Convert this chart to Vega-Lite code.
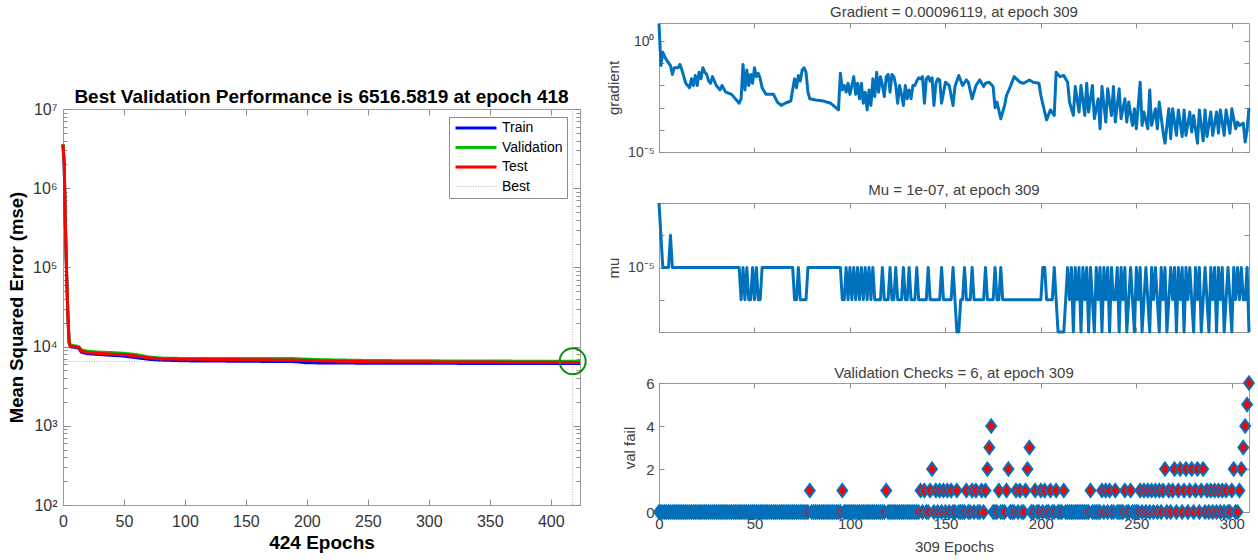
{
"$schema":"https://vega.github.io/schema/vega-lite/v6.json",
"padding":{"left":7,"top":4,"right":0,"bottom":0},
"bounds":"flush",
"spacing":79,
"config":{
  "font":"Liberation Sans",
  "view":{"stroke":"#9a9a9a","strokeWidth":1},
  "axis":{"domain":false,"domainColor":"#9a9a9a","grid":false,"tickColor":"#8c8c8c","tickWidth":1,"labelColor":"#333333","titleColor":"#262626","labelFlush":false,"labelOverlap":false}
},
"datasets":{
"perf":[
{"e":0,"s":"Train","m":3550000},{"e":1,"s":"Train","m":2000000},{"e":2,"s":"Train","m":320000},{"e":3,"s":"Train","m":79000},{"e":4,"s":"Train","m":25000},{"e":5,"s":"Train","m":11200},{"e":6,"s":"Train","m":10000},{"e":13,"s":"Train","m":9550},{"e":15,"s":"Train","m":8510},{"e":20,"s":"Train","m":8130},{"e":30,"s":"Train","m":7940},{"e":40,"s":"Train","m":7760},{"e":50,"s":"Train","m":7590},{"e":60,"s":"Train","m":7240},{"e":70,"s":"Train","m":6920},{"e":80,"s":"Train","m":6760},{"e":100,"s":"Train","m":6610},{"e":150,"s":"Train","m":6530},{"e":190,"s":"Train","m":6460},{"e":200,"s":"Train","m":6240},{"e":250,"s":"Train","m":6170},{"e":424,"s":"Train","m":6100},
{"e":0,"s":"Validation","m":3600000},{"e":1,"s":"Validation","m":2000000},{"e":2,"s":"Validation","m":325000},{"e":3,"s":"Validation","m":80000},{"e":4,"s":"Validation","m":25500},{"e":5,"s":"Validation","m":11500},{"e":6,"s":"Validation","m":10500},{"e":13,"s":"Validation","m":10000},{"e":15,"s":"Validation","m":9120},{"e":20,"s":"Validation","m":8710},{"e":30,"s":"Validation","m":8510},{"e":40,"s":"Validation","m":8410},{"e":50,"s":"Validation","m":8220},{"e":60,"s":"Validation","m":7940},{"e":70,"s":"Validation","m":7410},{"e":80,"s":"Validation","m":7160},{"e":100,"s":"Validation","m":7080},{"e":150,"s":"Validation","m":7080},{"e":190,"s":"Validation","m":7050},{"e":210,"s":"Validation","m":6840},{"e":250,"s":"Validation","m":6680},{"e":300,"s":"Validation","m":6610},{"e":418,"s":"Validation","m":6516.58},{"e":424,"s":"Validation","m":6516.58},
{"e":0,"s":"Test","m":3550000},{"e":1,"s":"Test","m":2000000},{"e":2,"s":"Test","m":320000},{"e":3,"s":"Test","m":79000},{"e":4,"s":"Test","m":25000},{"e":5,"s":"Test","m":11300},{"e":6,"s":"Test","m":10200},{"e":13,"s":"Test","m":9770},{"e":15,"s":"Test","m":8810},{"e":20,"s":"Test","m":8410},{"e":30,"s":"Test","m":8220},{"e":40,"s":"Test","m":8040},{"e":50,"s":"Test","m":7940},{"e":60,"s":"Test","m":7590},{"e":70,"s":"Test","m":7240},{"e":80,"s":"Test","m":7000},{"e":100,"s":"Test","m":6920},{"e":150,"s":"Test","m":6840},{"e":190,"s":"Test","m":6760},{"e":210,"s":"Test","m":6610},{"e":250,"s":"Test","m":6460},{"e":424,"s":"Test","m":6310}
],
"grad":[
{"e":0,"g":6.3},{"e":1,"g":0.0794},{"e":2,"g":0.316},{"e":3,"g":0.2},{"e":4,"g":0.141},{"e":6,"g":0.0794},{"e":7,"g":0.0316},{"e":8,"g":0.0631},{"e":10,"g":0.0631},{"e":11,"g":0.0891},{"e":12,"g":0.0501},{"e":13,"g":0.0251},{"e":14,"g":0.0126},{"e":16,"g":0.00794},{"e":17,"g":0.02},{"e":18,"g":0.01},{"e":19,"g":0.0282},{"e":20,"g":0.01},{"e":21,"g":0.0398},{"e":22,"g":0.02},{"e":23,"g":0.0631},{"e":24,"g":0.0398},{"e":25,"g":0.0316},{"e":26,"g":0.0158},{"e":27,"g":0.0126},{"e":28,"g":0.0251},{"e":30,"g":0.01},{"e":32,"g":0.00631},{"e":33,"g":0.01},{"e":35,"g":0.00501},{"e":38,"g":0.00398},{"e":40,"g":0.00251},{"e":42,"g":0.00158},{"e":43,"g":0.00251},{"e":44,"g":0.0891},{"e":45,"g":0.00631},{"e":46,"g":0.0501},{"e":47,"g":0.01},{"e":48,"g":0.0316},{"e":49,"g":0.0126},{"e":50,"g":0.0631},{"e":51,"g":0.0251},{"e":52,"g":0.0355},{"e":53,"g":0.02},{"e":54,"g":0.00794},{"e":56,"g":0.00398},{"e":60,"g":0.00398},{"e":62,"g":0.00178},{"e":64,"g":0.00126},{"e":66,"g":0.00158},{"e":69,"g":0.002},{"e":70,"g":0.00631},{"e":71,"g":0.02},{"e":72,"g":0.00794},{"e":73,"g":0.0282},{"e":74,"g":0.0158},{"e":75,"g":0.0501},{"e":76,"g":0.0631},{"e":77,"g":0.0398},{"e":78,"g":0.00501},{"e":79,"g":0.00251},{"e":82,"g":0.00224},{"e":86,"g":0.002},{"e":90,"g":0.00158},{"e":94,"g":0.000794},{"e":95,"g":0.0355},{"e":96,"g":0.00631},{"e":97,"g":0.01},{"e":98,"g":0.00501},{"e":99,"g":0.0126},{"e":100,"g":0.00398},{"e":101,"g":0.01},{"e":102,"g":0.0251},{"e":103,"g":0.00398},{"e":104,"g":0.0126},{"e":105,"g":0.00251},{"e":106,"g":0.0126},{"e":107,"g":0.00158},{"e":108,"g":0.00501},{"e":109,"g":0.000794},{"e":110,"g":0.00631},{"e":111,"g":0.00126},{"e":112,"g":0.02},{"e":113,"g":0.00316},{"e":114,"g":0.0398},{"e":115,"g":0.00501},{"e":116,"g":0.0251},{"e":117,"g":0.01},{"e":118,"g":0.00316},{"e":119,"g":0.0251},{"e":120,"g":0.0316},{"e":121,"g":0.00501},{"e":122,"g":0.0316},{"e":123,"g":0.0251},{"e":124,"g":0.01},{"e":125,"g":0.00158},{"e":126,"g":0.01},{"e":127,"g":0.00398},{"e":128,"g":0.00126},{"e":129,"g":0.01},{"e":130,"g":0.00251},{"e":131,"g":0.00631},{"e":132,"g":0.00251},{"e":133,"g":0.01},{"e":134,"g":0.01},{"e":135,"g":0.0158},{"e":136,"g":0.0224},{"e":137,"g":0.02},{"e":138,"g":0.0251},{"e":139,"g":0.00158},{"e":140,"g":0.02},{"e":141,"g":0.0251},{"e":142,"g":0.0158},{"e":143,"g":0.0224},{"e":144,"g":0.00126},{"e":145,"g":0.0126},{"e":146,"g":0.02},{"e":147,"g":0.0178},{"e":148,"g":0.00158},{"e":150,"g":0.0141},{"e":152,"g":0.01},{"e":154,"g":0.00126},{"e":155,"g":0.00891},{"e":157,"g":0.0282},{"e":159,"g":0.01},{"e":161,"g":0.0178},{"e":162,"g":0.0141},{"e":164,"g":0.00251},{"e":166,"g":0.01},{"e":168,"g":0.0178},{"e":170,"g":0.00891},{"e":171,"g":0.0126},{"e":173,"g":0.0141},{"e":175,"g":0.00891},{"e":176,"g":0.001},{"e":177,"g":0.00178},{"e":179,"g":0.000316},{"e":181,"g":0.00126},{"e":182,"g":0.00355},{"e":184,"g":0.00891},{"e":186,"g":0.0251},{"e":189,"g":0.0141},{"e":191,"g":0.0126},{"e":194,"g":0.0178},{"e":196,"g":0.0141},{"e":199,"g":0.0126},{"e":200,"g":0.00355},{"e":202,"g":0.000631},{"e":203,"g":0.000282},{"e":205,"g":0.000794},{"e":207,"g":0.000447},{"e":208,"g":0.0398},{"e":210,"g":0.0251},{"e":212,"g":0.0282},{"e":214,"g":0.0141},{"e":215,"g":0.00178},{"e":217,"g":0.000447},{"e":218,"g":0.00891},{"e":220,"g":0.000631},{"e":221,"g":0.01},{"e":223,"g":0.000447},{"e":224,"g":0.0126},{"e":225,"g":0.000631},{"e":227,"g":0.01},{"e":228,"g":0.000316},{"e":230,"g":0.00251},{"e":231,"g":0.000112},{"e":232,"g":0.00891},{"e":234,"g":0.000224},{"e":235,"g":0.00708},{"e":237,"g":0.000447},{"e":238,"g":0.00891},{"e":239,"g":0.000224},{"e":241,"g":0.00708},{"e":242,"g":0.000316},{"e":244,"g":0.00251},{"e":245,"g":0.000224},{"e":246,"g":0.00178},{"e":248,"g":0.000158},{"e":249,"g":0.000891},{"e":250,"g":0.000112},{"e":252,"g":0.0141},{"e":253,"g":0.000158},{"e":254,"g":0.000631},{"e":256,"g":0.000112},{"e":257,"g":0.00631},{"e":258,"g":0.000158},{"e":260,"g":0.000891},{"e":261,"g":0.000112},{"e":262,"g":0.00178},{"e":264,"g":0.0000794},{"e":265,"g":0.0000251},{"e":267,"g":0.000891},{"e":268,"g":0.0000398},{"e":269,"g":0.000891},{"e":271,"g":0.0000562},{"e":272,"g":0.000794},{"e":274,"g":0.0000501},{"e":275,"g":0.000794},{"e":276,"g":0.0000562},{"e":278,"g":0.000631},{"e":279,"g":0.0000794},{"e":280,"g":0.000447},{"e":282,"g":0.0000251},{"e":283,"g":0.000794},{"e":285,"g":0.0000316},{"e":286,"g":0.000794},{"e":287,"g":0.0000501},{"e":289,"g":0.000631},{"e":290,"g":0.0000562},{"e":292,"g":0.000631},{"e":293,"g":0.0000708},{"e":294,"g":0.000794},{"e":296,"g":0.0000562},{"e":297,"g":0.000794},{"e":299,"g":0.0000708},{"e":300,"g":0.000891},{"e":302,"g":0.000112},{"e":303,"g":0.000224},{"e":304,"g":0.000158},{"e":306,"g":0.0002},{"e":307,"g":0.0000282},{"e":308,"g":0.0001},{"e":309,"g":0.000961}
],
"mu":[
{"e":0,"u":1e-3},{"e":1,"u":1e-4},{"e":2,"u":1e-5},{"e":5,"u":1e-5},{"e":6,"u":1e-4},{"e":7,"u":1e-5},{"e":42,"u":1e-5},{"e":43,"u":1e-6},{"e":44,"u":1e-5},{"e":45,"u":1e-6},{"e":46,"u":1e-5},{"e":47,"u":1e-6},{"e":48,"u":1e-6},{"e":49,"u":1e-5},{"e":50,"u":1e-6},{"e":51,"u":1e-5},{"e":52,"u":1e-6},{"e":53,"u":1e-6},{"e":54,"u":1e-5},{"e":70,"u":1e-5},{"e":71,"u":1e-6},{"e":72,"u":1e-6},{"e":73,"u":1e-5},{"e":74,"u":1e-6},{"e":77,"u":1e-6},{"e":78,"u":1e-5},{"e":95,"u":1e-5},{"e":96,"u":1e-6},{"e":97,"u":1e-6},{"e":98,"u":1e-5},{"e":99,"u":1e-6},{"e":100,"u":1e-5},{"e":101,"u":1e-6},{"e":102,"u":1e-5},{"e":103,"u":1e-6},{"e":104,"u":1e-5},{"e":105,"u":1e-6},{"e":106,"u":1e-5},{"e":107,"u":1e-6},{"e":108,"u":1e-5},{"e":109,"u":1e-6},{"e":110,"u":1e-5},{"e":111,"u":1e-6},{"e":112,"u":1e-5},{"e":113,"u":1e-6},{"e":116,"u":1e-6},{"e":117,"u":1e-5},{"e":118,"u":1e-6},{"e":120,"u":1e-6},{"e":121,"u":1e-5},{"e":122,"u":1e-6},{"e":123,"u":1e-6},{"e":124,"u":1e-5},{"e":125,"u":1e-6},{"e":127,"u":1e-6},{"e":128,"u":1e-5},{"e":129,"u":1e-6},{"e":130,"u":1e-6},{"e":131,"u":1e-5},{"e":132,"u":1e-6},{"e":134,"u":1e-6},{"e":135,"u":1e-5},{"e":136,"u":1e-6},{"e":140,"u":1e-6},{"e":141,"u":1e-5},{"e":142,"u":1e-6},{"e":147,"u":1e-6},{"e":148,"u":1e-5},{"e":149,"u":1e-6},{"e":153,"u":1e-6},{"e":154,"u":1e-5},{"e":155,"u":1e-6},{"e":156,"u":1e-7},{"e":157,"u":1e-7},{"e":158,"u":1e-6},{"e":159,"u":1e-6},{"e":160,"u":1e-5},{"e":161,"u":1e-6},{"e":163,"u":1e-6},{"e":164,"u":1e-5},{"e":165,"u":1e-6},{"e":170,"u":1e-6},{"e":171,"u":1e-5},{"e":172,"u":1e-6},{"e":175,"u":1e-6},{"e":176,"u":1e-5},{"e":177,"u":1e-6},{"e":178,"u":1e-6},{"e":179,"u":1e-5},{"e":180,"u":1e-6},{"e":200,"u":1e-6},{"e":201,"u":1e-5},{"e":202,"u":1e-5},{"e":203,"u":1e-6},{"e":206,"u":1e-6},{"e":207,"u":1e-5},{"e":208,"u":1e-6},{"e":209,"u":1e-7},{"e":212,"u":1e-7},{"e":213,"u":1e-6},{"e":214,"u":1e-5},{"e":215,"u":1e-6},{"e":216,"u":1e-5},{"e":217,"u":1e-7},{"e":218,"u":1e-5},{"e":219,"u":1e-6},{"e":220,"u":1e-5},{"e":221,"u":1e-7},{"e":222,"u":1e-5},{"e":223,"u":1e-6},{"e":224,"u":1e-5},{"e":225,"u":1e-7},{"e":226,"u":1e-5},{"e":227,"u":1e-6},{"e":228,"u":1e-7},{"e":229,"u":1e-5},{"e":230,"u":1e-6},{"e":231,"u":1e-5},{"e":232,"u":1e-7},{"e":233,"u":1e-5},{"e":234,"u":1e-6},{"e":235,"u":1e-5},{"e":236,"u":1e-7},{"e":237,"u":1e-5},{"e":238,"u":1e-6},{"e":239,"u":1e-6},{"e":240,"u":1e-5},{"e":241,"u":1e-7},{"e":242,"u":1e-5},{"e":243,"u":1e-6},{"e":244,"u":1e-5},{"e":245,"u":1e-7},{"e":246,"u":1e-6},{"e":247,"u":1e-5},{"e":248,"u":1e-6},{"e":249,"u":1e-7},{"e":250,"u":1e-5},{"e":251,"u":1e-6},{"e":252,"u":1e-5},{"e":253,"u":1e-7},{"e":254,"u":1e-6},{"e":255,"u":1e-5},{"e":256,"u":1e-6},{"e":257,"u":1e-7},{"e":258,"u":1e-5},{"e":259,"u":1e-6},{"e":260,"u":1e-5},{"e":261,"u":1e-6},{"e":262,"u":1e-7},{"e":263,"u":1e-5},{"e":264,"u":1e-6},{"e":265,"u":1e-5},{"e":266,"u":1e-7},{"e":267,"u":1e-6},{"e":268,"u":1e-5},{"e":269,"u":1e-6},{"e":270,"u":1e-5},{"e":271,"u":1e-7},{"e":272,"u":1e-5},{"e":273,"u":1e-6},{"e":274,"u":1e-5},{"e":275,"u":1e-7},{"e":276,"u":1e-5},{"e":277,"u":1e-6},{"e":278,"u":1e-5},{"e":279,"u":1e-6},{"e":280,"u":1e-7},{"e":281,"u":1e-5},{"e":282,"u":1e-6},{"e":283,"u":1e-5},{"e":284,"u":1e-7},{"e":285,"u":1e-6},{"e":286,"u":1e-5},{"e":287,"u":1e-6},{"e":288,"u":1e-7},{"e":289,"u":1e-5},{"e":290,"u":1e-6},{"e":291,"u":1e-5},{"e":292,"u":1e-7},{"e":293,"u":1e-5},{"e":294,"u":1e-6},{"e":295,"u":1e-5},{"e":296,"u":1e-7},{"e":297,"u":1e-6},{"e":298,"u":1e-5},{"e":299,"u":1e-6},{"e":300,"u":1e-7},{"e":301,"u":1e-5},{"e":302,"u":1e-6},{"e":303,"u":1e-5},{"e":304,"u":1e-6},{"e":305,"u":1e-5},{"e":306,"u":1e-6},{"e":307,"u":1e-6},{"e":308,"u":1e-5},{"e":309,"u":1e-7}
],
"vf":[
{"e":0,"v":0},{"e":1,"v":0},{"e":2,"v":0},{"e":3,"v":0},{"e":4,"v":0},{"e":5,"v":0},{"e":6,"v":0},{"e":7,"v":0},{"e":8,"v":0},{"e":9,"v":0},
{"e":10,"v":0},{"e":11,"v":0},{"e":12,"v":0},{"e":13,"v":0},{"e":14,"v":0},{"e":15,"v":0},{"e":16,"v":0},{"e":17,"v":0},{"e":18,"v":0},{"e":19,"v":0},
{"e":20,"v":0},{"e":21,"v":0},{"e":22,"v":0},{"e":23,"v":0},{"e":24,"v":0},{"e":25,"v":0},{"e":26,"v":0},{"e":27,"v":0},{"e":28,"v":0},{"e":29,"v":0},
{"e":30,"v":0},{"e":31,"v":0},{"e":32,"v":0},{"e":33,"v":0},{"e":34,"v":0},{"e":35,"v":0},{"e":36,"v":0},{"e":37,"v":0},{"e":38,"v":0},{"e":39,"v":0},
{"e":40,"v":0},{"e":41,"v":0},{"e":42,"v":0},{"e":43,"v":0},{"e":44,"v":0},{"e":45,"v":0},{"e":46,"v":0},{"e":47,"v":0},{"e":48,"v":0},{"e":49,"v":0},
{"e":50,"v":0},{"e":51,"v":0},{"e":52,"v":0},{"e":53,"v":0},{"e":54,"v":0},{"e":55,"v":0},{"e":56,"v":0},{"e":57,"v":0},{"e":58,"v":0},{"e":59,"v":0},
{"e":60,"v":0},{"e":61,"v":0},{"e":62,"v":0},{"e":63,"v":0},{"e":64,"v":0},{"e":65,"v":0},{"e":66,"v":0},{"e":67,"v":0},{"e":68,"v":0},{"e":69,"v":0},
{"e":70,"v":0},{"e":71,"v":0},{"e":72,"v":0},{"e":73,"v":0},{"e":74,"v":0},{"e":75,"v":0},{"e":76,"v":0},{"e":77,"v":0},{"e":78,"v":0},{"e":79,"v":1},
{"e":80,"v":0},{"e":81,"v":0},{"e":82,"v":0},{"e":83,"v":0},{"e":84,"v":0},{"e":85,"v":0},{"e":86,"v":0},{"e":87,"v":0},{"e":88,"v":0},{"e":89,"v":0},
{"e":90,"v":0},{"e":91,"v":0},{"e":92,"v":0},{"e":93,"v":0},{"e":94,"v":0},{"e":95,"v":0},{"e":96,"v":1},{"e":97,"v":0},{"e":98,"v":0},{"e":99,"v":0},
{"e":100,"v":0},{"e":101,"v":0},{"e":102,"v":0},{"e":103,"v":0},{"e":104,"v":0},{"e":105,"v":0},{"e":106,"v":0},{"e":107,"v":0},{"e":108,"v":0},{"e":109,"v":0},
{"e":110,"v":0},{"e":111,"v":0},{"e":112,"v":0},{"e":113,"v":0},{"e":114,"v":0},{"e":115,"v":0},{"e":116,"v":0},{"e":117,"v":0},{"e":118,"v":0},{"e":119,"v":1},
{"e":120,"v":0},{"e":121,"v":0},{"e":122,"v":0},{"e":123,"v":0},{"e":124,"v":0},{"e":125,"v":0},{"e":126,"v":0},{"e":127,"v":0},{"e":128,"v":0},{"e":129,"v":0},
{"e":130,"v":0},{"e":131,"v":0},{"e":132,"v":0},{"e":133,"v":0},{"e":134,"v":0},{"e":135,"v":0},{"e":136,"v":0},{"e":137,"v":1},{"e":138,"v":0},{"e":139,"v":1},
{"e":140,"v":0},{"e":141,"v":0},{"e":142,"v":1},{"e":143,"v":2},{"e":144,"v":0},{"e":145,"v":1},{"e":146,"v":0},{"e":147,"v":1},{"e":148,"v":0},{"e":149,"v":1},
{"e":150,"v":0},{"e":151,"v":1},{"e":152,"v":0},{"e":153,"v":1},{"e":154,"v":0},{"e":155,"v":0},{"e":156,"v":1},{"e":157,"v":0},{"e":158,"v":0},{"e":159,"v":0},
{"e":160,"v":0},{"e":161,"v":1},{"e":162,"v":0},{"e":163,"v":0},{"e":164,"v":1},{"e":165,"v":0},{"e":166,"v":1},{"e":167,"v":0},{"e":168,"v":0},{"e":169,"v":1},
{"e":170,"v":0},{"e":171,"v":1},{"e":172,"v":2},{"e":173,"v":3},{"e":174,"v":4},{"e":175,"v":0},{"e":176,"v":0},{"e":177,"v":0},{"e":178,"v":1},{"e":179,"v":0},
{"e":180,"v":0},{"e":181,"v":0},{"e":182,"v":1},{"e":183,"v":2},{"e":184,"v":0},{"e":185,"v":0},{"e":186,"v":0},{"e":187,"v":1},{"e":188,"v":0},{"e":189,"v":1},
{"e":190,"v":0},{"e":191,"v":0},{"e":192,"v":1},{"e":193,"v":2},{"e":194,"v":3},{"e":195,"v":0},{"e":196,"v":0},{"e":197,"v":1},{"e":198,"v":0},{"e":199,"v":0},
{"e":200,"v":1},{"e":201,"v":0},{"e":202,"v":1},{"e":203,"v":0},{"e":204,"v":0},{"e":205,"v":1},{"e":206,"v":0},{"e":207,"v":0},{"e":208,"v":1},{"e":209,"v":0},
{"e":210,"v":0},{"e":211,"v":0},{"e":212,"v":1},{"e":213,"v":0},{"e":214,"v":0},{"e":215,"v":0},{"e":216,"v":0},{"e":217,"v":0},{"e":218,"v":0},{"e":219,"v":0},
{"e":220,"v":0},{"e":221,"v":0},{"e":222,"v":0},{"e":223,"v":0},{"e":224,"v":0},{"e":225,"v":0},{"e":226,"v":1},{"e":227,"v":0},{"e":228,"v":0},{"e":229,"v":0},
{"e":230,"v":0},{"e":231,"v":0},{"e":232,"v":1},{"e":233,"v":0},{"e":234,"v":1},{"e":235,"v":0},{"e":236,"v":1},{"e":237,"v":0},{"e":238,"v":0},{"e":239,"v":1},
{"e":240,"v":0},{"e":241,"v":0},{"e":242,"v":0},{"e":243,"v":0},{"e":244,"v":1},{"e":245,"v":0},{"e":246,"v":0},{"e":247,"v":1},{"e":248,"v":0},{"e":249,"v":0},
{"e":250,"v":0},{"e":251,"v":0},{"e":252,"v":1},{"e":253,"v":0},{"e":254,"v":1},{"e":255,"v":0},{"e":256,"v":1},{"e":257,"v":0},{"e":258,"v":1},{"e":259,"v":0},
{"e":260,"v":1},{"e":261,"v":0},{"e":262,"v":1},{"e":263,"v":0},{"e":264,"v":1},{"e":265,"v":2},{"e":266,"v":0},{"e":267,"v":1},{"e":268,"v":0},{"e":269,"v":1},
{"e":270,"v":2},{"e":271,"v":0},{"e":272,"v":1},{"e":273,"v":2},{"e":274,"v":0},{"e":275,"v":1},{"e":276,"v":2},{"e":277,"v":0},{"e":278,"v":1},{"e":279,"v":2},
{"e":280,"v":0},{"e":281,"v":1},{"e":282,"v":2},{"e":283,"v":0},{"e":284,"v":1},{"e":285,"v":2},{"e":286,"v":0},{"e":287,"v":1},{"e":288,"v":0},{"e":289,"v":1},
{"e":290,"v":0},{"e":291,"v":1},{"e":292,"v":0},{"e":293,"v":1},{"e":294,"v":0},{"e":295,"v":1},{"e":296,"v":0},{"e":297,"v":1},{"e":298,"v":0},{"e":299,"v":0},
{"e":300,"v":1},{"e":301,"v":2},{"e":302,"v":0},{"e":303,"v":0},{"e":304,"v":1},{"e":305,"v":2},{"e":306,"v":3},{"e":307,"v":4},{"e":308,"v":5},{"e":309,"v":6}
]
},
"hconcat":[
  {"width":517,"height":482,"view":{"stroke":null},
   "title":{"text":"Best Validation Performance is 6516.5819 at epoch 418","fontSize":19,"fontWeight":"bold","color":"#000000","offset":-103,"baseline":"bottom","font":"Liberation Sans"},
   "layer":[
    {"data":{"values":[{"s":"Best","m":6516.58}]},"mark":{"type":"rule","strokeWidth":1},
     "encoding":{"y":{"field":"m","type":"quantitative","scale":{"type":"log","domain":[100,10000000],"nice":false,"range":[482,86]},"axis":null},
       "color":{"field":"s","type":"nominal","scale":{"domain":["Train","Validation","Test","Best"],"range":["#0000FF","#00C000","#FF0000","#A9B9C6"]},"legend":{"title":null,"orient":"none","legendX":386,"legendY":94,"symbolType":"stroke","symbolSize":1681,"symbolStrokeWidth":3,"symbolOffset":16,"labelFontSize":14,"labelColor":"#000000","fillColor":"#ffffff","strokeColor":"#8c8c8c","padding":4,"rowPadding":5.5,"labelOffset":19,"encode":{"symbols":{"update":{"strokeWidth":{"signal":"datum.value === 'Best' ? 1 : 3"},"strokeDash":{"signal":"datum.value === 'Best' ? [1,1.5] : [1,0]"}}}}}},
       "strokeDash":{"field":"s","type":"nominal","scale":{"domain":["Train","Validation","Test","Best"],"range":[[1,0],[1,0],[1,0],[1,1.5]]},"legend":null}}},
    {"data":{"values":[{"s":"Best","e":418}]},"mark":{"type":"rule","strokeWidth":1},
     "encoding":{"x":{"field":"e","type":"quantitative","scale":{"domain":[0,424],"nice":false,"zero":false},"axis":null},
       "y":{"datum":100,"type":"quantitative","axis":null},"y2":{"datum":10000000},
       "color":{"field":"s","type":"nominal"},"strokeDash":{"field":"s","type":"nominal"}}},
    {"data":{"name":"perf"},"mark":{"type":"line","strokeJoin":"round","strokeWidth":3},
     "encoding":{
       "x":{"field":"e","type":"quantitative","scale":{"domain":[0,424],"nice":false,"zero":false},"axis":{"orient":"bottom","domain":true,"values":[0,50,100,150,200,250,300,350,400],"tickSize":-6,"labelPadding":14,"labelFontSize":16,"title":"424 Epochs","titleFontSize":19,"titleFontWeight":"bold","titleColor":"#000000","titlePadding":4}},
       "y":{"field":"m","type":"quantitative","axis":{"orient":"left","domain":true,"values":[100,200,300,400,500,600,700,800,900,1000,2000,3000,4000,5000,6000,7000,8000,9000,10000,20000,30000,40000,50000,60000,70000,80000,90000,100000,200000,300000,400000,500000,600000,700000,800000,900000,1000000,2000000,3000000,4000000,5000000,6000000,7000000,8000000,9000000,10000000],"labelExpr":"datum.value == 100 ? '10²' : datum.value == 1000 ? '10³' : datum.value == 10000 ? '10⁴' : datum.value == 100000 ? '10⁵' : datum.value == 1000000 ? '10⁶' : datum.value == 10000000 ? '10⁷' : ''","tickSize":{"condition":{"test":"indexof([100,1000,10000,100000,1000000,10000000], datum.value) >= 0","value":-7},"value":-4},"labelPadding":13,"labelFontSize":16,"title":"Mean Squared Error  (mse)","titleFontSize":18.5,"titleFontWeight":"bold","titleColor":"#000000","titlePadding":6}},
       "color":{"field":"s","type":"nominal"},"strokeDash":{"field":"s","type":"nominal"}}},
    {"data":{"values":[{"e":418,"m":6516.58}]},"mark":{"type":"point","shape":"circle","filled":false,"color":"#128a12","strokeWidth":2,"size":676,"opacity":1},
     "encoding":{
       "x":{"field":"e","type":"quantitative","axis":{"orient":"top","domain":true,"offset":-86,"values":[0,50,100,150,200,250,300,350,400],"tickSize":-6,"labels":false,"title":null}},
       "y":{"field":"m","type":"quantitative","axis":{"orient":"right","domain":true,"values":[100,200,300,400,500,600,700,800,900,1000,2000,3000,4000,5000,6000,7000,8000,9000,10000,20000,30000,40000,50000,60000,70000,80000,90000,100000,200000,300000,400000,500000,600000,700000,800000,900000,1000000,2000000,3000000,4000000,5000000,6000000,7000000,8000000,9000000,10000000],"tickSize":{"condition":{"test":"indexof([100,1000,10000,100000,1000000,10000000], datum.value) >= 0","value":-7},"value":-4},"labels":false,"title":null}}}}
   ],
   "resolve":{"axis":{"x":"independent","y":"independent"}}
  },
{"bounds":"flush","spacing":51,"vconcat":[
  {"width":590,"height":129,
   "title":{"text":"Gradient = 0.00096119, at epoch 309","fontSize":15,"fontWeight":"normal","color":"#404040","offset":2,"font":"Liberation Sans"},
   "data":{"name":"grad"},
   "layer":[
    {"mark":{"type":"line","color":"#0072BD","strokeWidth":3,"strokeJoin":"round"},
     "encoding":{
       "x":{"field":"e","type":"quantitative","scale":{"domain":[0,309],"nice":false,"zero":false},"axis":{"orient":"bottom","values":[0,50,100,150,200,250,300],"tickSize":-5,"labels":false,"title":null}},
       "y":{"field":"g","type":"quantitative","scale":{"type":"log","domain":[0.00001,6.6],"nice":false},"axis":{"orient":"left","values":[0.00001,0.0001,0.001,0.01,0.1,1],"labelExpr":"datum.value > 0.5 ? '10⁰' : datum.value < 0.00002 ? '10⁻⁵' : ''","tickSize":-5,"labelPadding":10,"labelFontSize":14,"labelColor":"#404040","title":"gradient","titleFontSize":15,"titleFontWeight":"normal","titleColor":"#404040","titlePadding":6}}}},
    {"mark":{"type":"line","opacity":0},
     "encoding":{
       "x":{"field":"e","type":"quantitative","axis":{"orient":"top","values":[0,50,100,150,200,250,300],"tickSize":-5,"labels":false,"title":null}},
       "y":{"field":"g","type":"quantitative","axis":{"orient":"right","values":[0.00001,0.0001,0.001,0.01,0.1,1],"tickSize":-5,"labels":false,"title":null}}}}
   ],
   "resolve":{"axis":{"x":"independent","y":"independent"}}
  },
  {"width":590,"height":129,
   "title":{"text":"Mu = 1e-07, at epoch 309","fontSize":15,"fontWeight":"normal","color":"#404040","offset":-2,"font":"Liberation Sans"},
   "data":{"name":"mu"},
   "layer":[
    {"mark":{"type":"line","color":"#0072BD","strokeWidth":3,"strokeJoin":"round"},
     "encoding":{
       "x":{"field":"e","type":"quantitative","scale":{"domain":[0,309],"nice":false,"zero":false},"axis":{"orient":"bottom","values":[0,50,100,150,200,250,300],"tickSize":-5,"labels":false,"title":null}},
       "y":{"field":"u","type":"quantitative","scale":{"type":"log","domain":[1e-7,1e-3],"nice":false},"axis":{"orient":"left","values":[1e-7,1e-6,1e-5,1e-4,1e-3],"labelExpr":"datum.value > 5e-6 && datum.value < 5e-5 ? '10⁻⁵' : ''","tickSize":-5,"labelPadding":10,"labelFontSize":14,"labelColor":"#404040","title":"mu","titleFontSize":15,"titleFontWeight":"normal","titleColor":"#404040","titlePadding":6}}}},
    {"mark":{"type":"line","opacity":0},
     "encoding":{
       "x":{"field":"e","type":"quantitative","axis":{"orient":"top","values":[0,50,100,150,200,250,300],"tickSize":-5,"labels":false,"title":null}},
       "y":{"field":"u","type":"quantitative","axis":{"orient":"right","values":[1e-7,1e-6,1e-5,1e-4,1e-3],"tickSize":-5,"labels":false,"title":null}}}}
   ],
   "resolve":{"axis":{"x":"independent","y":"independent"}}
  },
  {"width":590,"height":129,
   "title":{"text":"Validation Checks = 6, at epoch 309","fontSize":15,"fontWeight":"normal","color":"#404040","offset":-9,"font":"Liberation Sans"},
   "data":{"name":"vf"},
   "layer":[
    {"mark":{"type":"point","shape":"M0,-1L0.75,0L0,1L-0.75,0Z","filled":true,"fill":"#FF0000","stroke":"#0072BD","strokeWidth":2,"size":170,"opacity":1,"fillOpacity":1,"strokeOpacity":1},
     "encoding":{
       "x":{"field":"e","type":"quantitative","scale":{"domain":[0,309],"nice":false,"zero":false},"axis":{"orient":"bottom","values":[0,50,100,150,200,250,300],"tickSize":-5,"labelPadding":9,"labelFontSize":15,"labelColor":"#404040","title":"309 Epochs","titleFontSize":15,"titleFontWeight":"normal","titleColor":"#404040","titlePadding":8}},
       "y":{"field":"v","type":"quantitative","scale":{"domain":[0,6],"nice":false,"zero":true},"axis":{"orient":"left","values":[0,2,4,6],"tickSize":-5,"labelPadding":10,"labelFontSize":15,"labelColor":"#404040","title":"val fail","titleFontSize":15,"titleFontWeight":"normal","titleColor":"#404040","titlePadding":8}}}},
    {"mark":{"type":"point","opacity":0},
     "encoding":{
       "x":{"field":"e","type":"quantitative","axis":{"orient":"top","values":[0,50,100,150,200,250,300],"tickSize":-5,"labels":false,"title":null}},
       "y":{"field":"v","type":"quantitative","axis":{"orient":"right","values":[0,2,4,6],"tickSize":-5,"labels":false,"title":null}}}}
   ],
   "resolve":{"axis":{"x":"independent","y":"independent"}}
  }
]}
]
}
